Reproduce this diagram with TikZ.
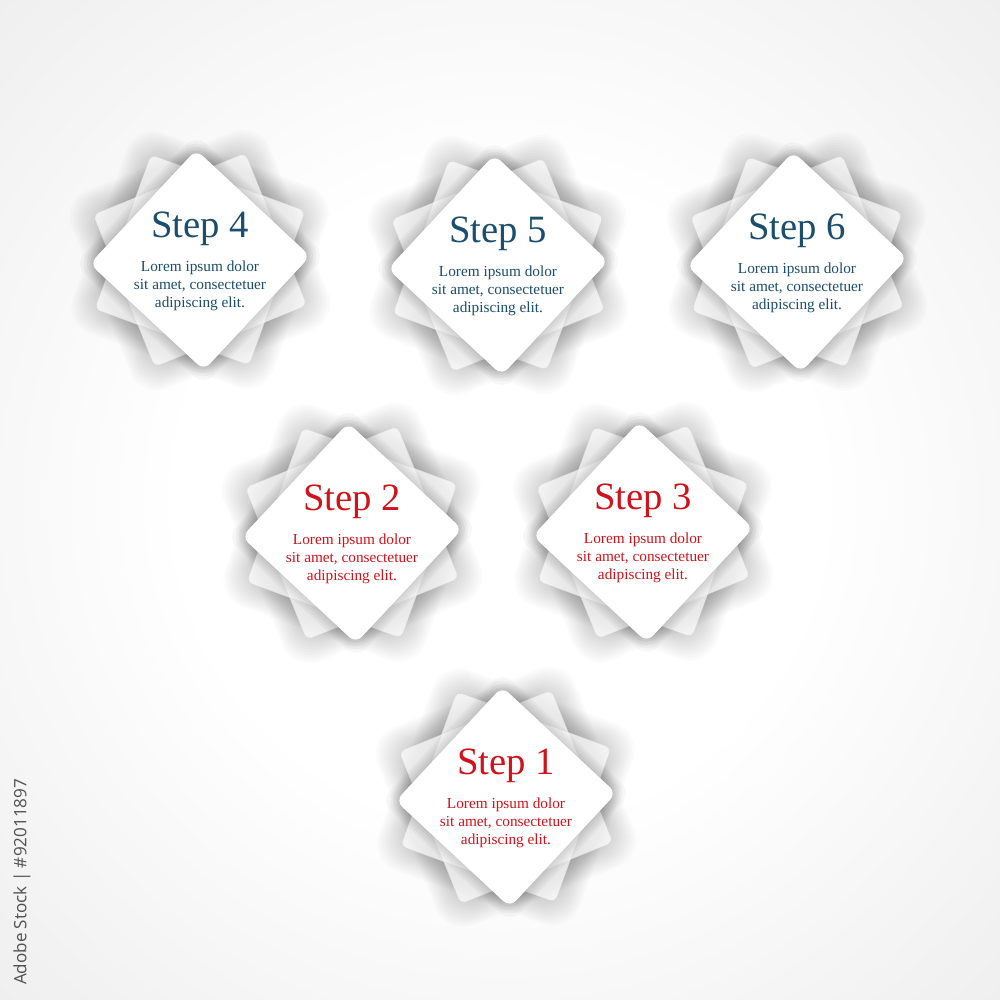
\documentclass[tikz,border=0pt]{standalone}
\usepackage{fontspec}
\setmainfont{Liberation Serif}
\newfontfamily\markfont{Open Sans}

\definecolor{stepblue}{HTML}{1B4D6E}
\definecolor{stepred}{HTML}{D2121B}
\definecolor{flapline}{HTML}{DADADA}
\definecolor{markgray}{HTML}{505050}

\pgfdeclareradialshading{bgglow}{\pgfpoint{0bp}{0bp}}{%
  color(0bp)=(white); color(16bp)=(white);
  color(50bp)=(black!11); color(71bp)=(black!21)}

\tikzset{
  flapshadow/.style={fill=black, fill opacity=0.017, rounded corners=16pt},
  cardshadow/.style={fill=black, fill opacity=0.03, rounded corners=8pt},
  flap/.style={fill=white, fill opacity=0.72, draw=flapline,
    draw opacity=0.45, line width=0.3pt, rounded corners=3pt},
  card/.style={fill=white, draw=none, rounded corners=5pt},
  steptitle/.style={font=\fontsize{22}{26}\selectfont},
  stepbody/.style={font=\fontsize{8.7}{10.2}\selectfont, align=center}
}

\begin{document}
\begin{tikzpicture}[x=0.2mm, y=0.2mm]
  % Background
  \useasboundingbox (0,0) rectangle (1000,1000);
  \shade[shading=bgglow] (0,0) rectangle (1000,1000);

  % Step cards
  \foreach \cx/\cy/\num/\col in {200/740/4/stepblue, 498/735/5/stepblue,
      797/738/6/stepblue, 352/467/2/stepred, 643/468/3/stepred,
      506/203/1/stepred}{
    \begin{scope}[shift={(\cx,\cy)}]
      % soft shadow of the flaps
      \foreach \s in {1.0,1.025,...,1.31}{
        \fill[flapshadow, rotate=22] (-82*\s,-82*\s) rectangle (82*\s,82*\s);
        \fill[flapshadow, rotate=70] (-82*\s,-82*\s) rectangle (82*\s,82*\s);
      }
      % flaps behind
      \draw[flap, rotate=22] (-82,-82) rectangle (82,82);
      \draw[flap, rotate=70] (-82,-82) rectangle (82,82);
      % shadow of the card
      \foreach \s in {1.02,1.05,...,1.16}
        \fill[cardshadow, rotate=47] (-78*\s,-78*\s) rectangle (78*\s,78*\s);
      % card
      \draw[card, rotate=47] (-78,-78) rectangle (78,78);
      \node[steptitle, text=\col] (title\num) at (0,31) {Step \num};
      \node[stepbody, text=\col] (body\num) at (0,-26)
        {Lorem ipsum dolor\\sit amet, consectetuer\\adipiscing elit.};
    \end{scope}
  }

  % Stock mark
  \node[rotate=90, text=markgray, font=\markfont\fontsize{9.7}{12}\selectfont]
    (stockmark) at (22,118) {Adobe Stock | \#92011897};
\end{tikzpicture}
\end{document}
